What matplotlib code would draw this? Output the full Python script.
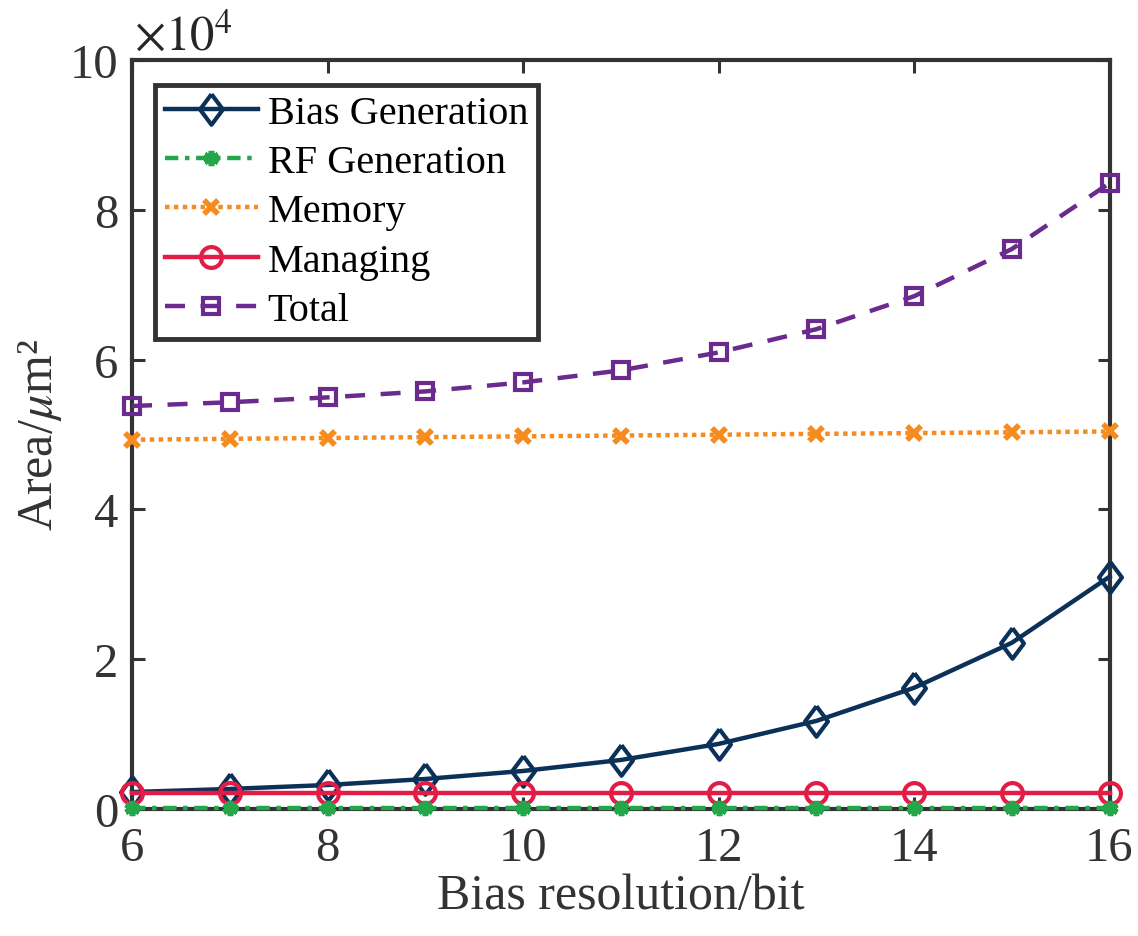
import numpy as np
import matplotlib
matplotlib.use('Agg')
import matplotlib.pyplot as plt
from matplotlib.ticker import FuncFormatter

plt.rcParams['font.family'] = ['Liberation Serif', 'DejaVu Serif']
plt.rcParams['mathtext.fontset'] = 'stix'

# data (area in um^2)
bits = [6, 7, 8, 9, 10, 11, 12, 13, 14, 15, 16]
bias_gen = [2270, 2680, 3210, 4010, 5080, 6550, 8690, 11760, 16180, 22190, 31020]
rf_gen = [150, 150, 150, 150, 150, 150, 150, 150, 150, 150, 150]
memory = [49300, 49420, 49530, 49640, 49750, 49860, 49970, 50080, 50180, 50290, 50400]
managing = [2140, 2140, 2140, 2140, 2140, 2140, 2140, 2140, 2140, 2140, 2140]
total = [53800, 54300, 54950, 55750, 56950, 58550, 60950, 64050, 68450, 74750, 83550]

y_ticks = [0, 20000, 40000, 60000, 80000, 100000]
x_ticks = [6, 8, 10, 12, 14, 16]

fig = plt.figure(figsize=(11.38, 9.37), dpi=100)
ax = fig.add_axes([0.116, 0.1355, 0.859, 0.7995])

# tall diamond like the MATLAB one
diamond = [(0, 1), (0.75, 0), (0, -1), (-0.75, 0), (0, 1)]

lw = 3.2
ax.plot(bits, bias_gen, color='#0b3158', lw=lw, marker=diamond, ms=22, mfc='none',
        mec='#0b3158', mew=3, label='Bias Generation', zorder=3, clip_on=False)
ax.plot(bits, rf_gen, color='#23a74a', lw=lw, ls=(0, (3, 1.5, 1, 1.5)), marker=(6, 2, 0), ms=11,
        mec='#23a74a', mew=4, label='RF Generation', zorder=4, clip_on=False)
ax.plot(bits, memory, color='#f68b1f', lw=lw, ls=(0, (1, 1)), marker='x', ms=10,
        mec='#f68b1f', mew=4, label='Memory', zorder=3, clip_on=False)
ax.plot(bits, managing, color='#e21c44', lw=lw, marker='o', ms=15, mfc='none',
        mec='#e21c44', mew=3, label='Managing', zorder=3, clip_on=False)
ax.plot(bits, total, color='#6a2a8e', lw=lw, ls=(0, (4.5, 3.5)), marker='s', ms=12, mfc='none',
        mec='#6a2a8e', mew=3, label='Total', zorder=3, clip_on=False)

ax.set_xlim(6, 16)
ax.set_ylim(0, 100000)
ax.set_xticks(x_ticks)
ax.set_yticks(y_ticks)
ax.yaxis.set_major_formatter(FuncFormatter(lambda v, p: '%g' % (v / 1e4)))

ax.tick_params(direction='in', length=9, width=2.2, top=True, right=True,
               labelsize=35, colors='#333333')
ax.tick_params(axis='x', pad=12)
ax.tick_params(axis='y', pad=10)
for sp in ax.spines.values():
    sp.set_linewidth(3)
    sp.set_color('#333333')

ax.text(0.002, 1.0, r'$\times10^4$', transform=ax.transAxes, fontsize=35,
        color='#262626', ha='left', va='bottom')

ax.set_xlabel('Bias resolution/bit', fontsize=36, color='#333333', labelpad=2)
ax.set_ylabel('Area/$\\mu$m²', fontsize=36, color='#333333', labelpad=4)

leg = ax.legend(loc='upper left', bbox_to_anchor=(0.0235, 0.967), borderaxespad=0,
                fontsize=29, fancybox=False, handlelength=2.3, handletextpad=0.25,
                labelspacing=0.3, borderpad=0.25, framealpha=1)
leg.get_frame().set_edgecolor('#333333')
leg.get_frame().set_linewidth(3.5)

plt.savefig('out.png', dpi=100)
